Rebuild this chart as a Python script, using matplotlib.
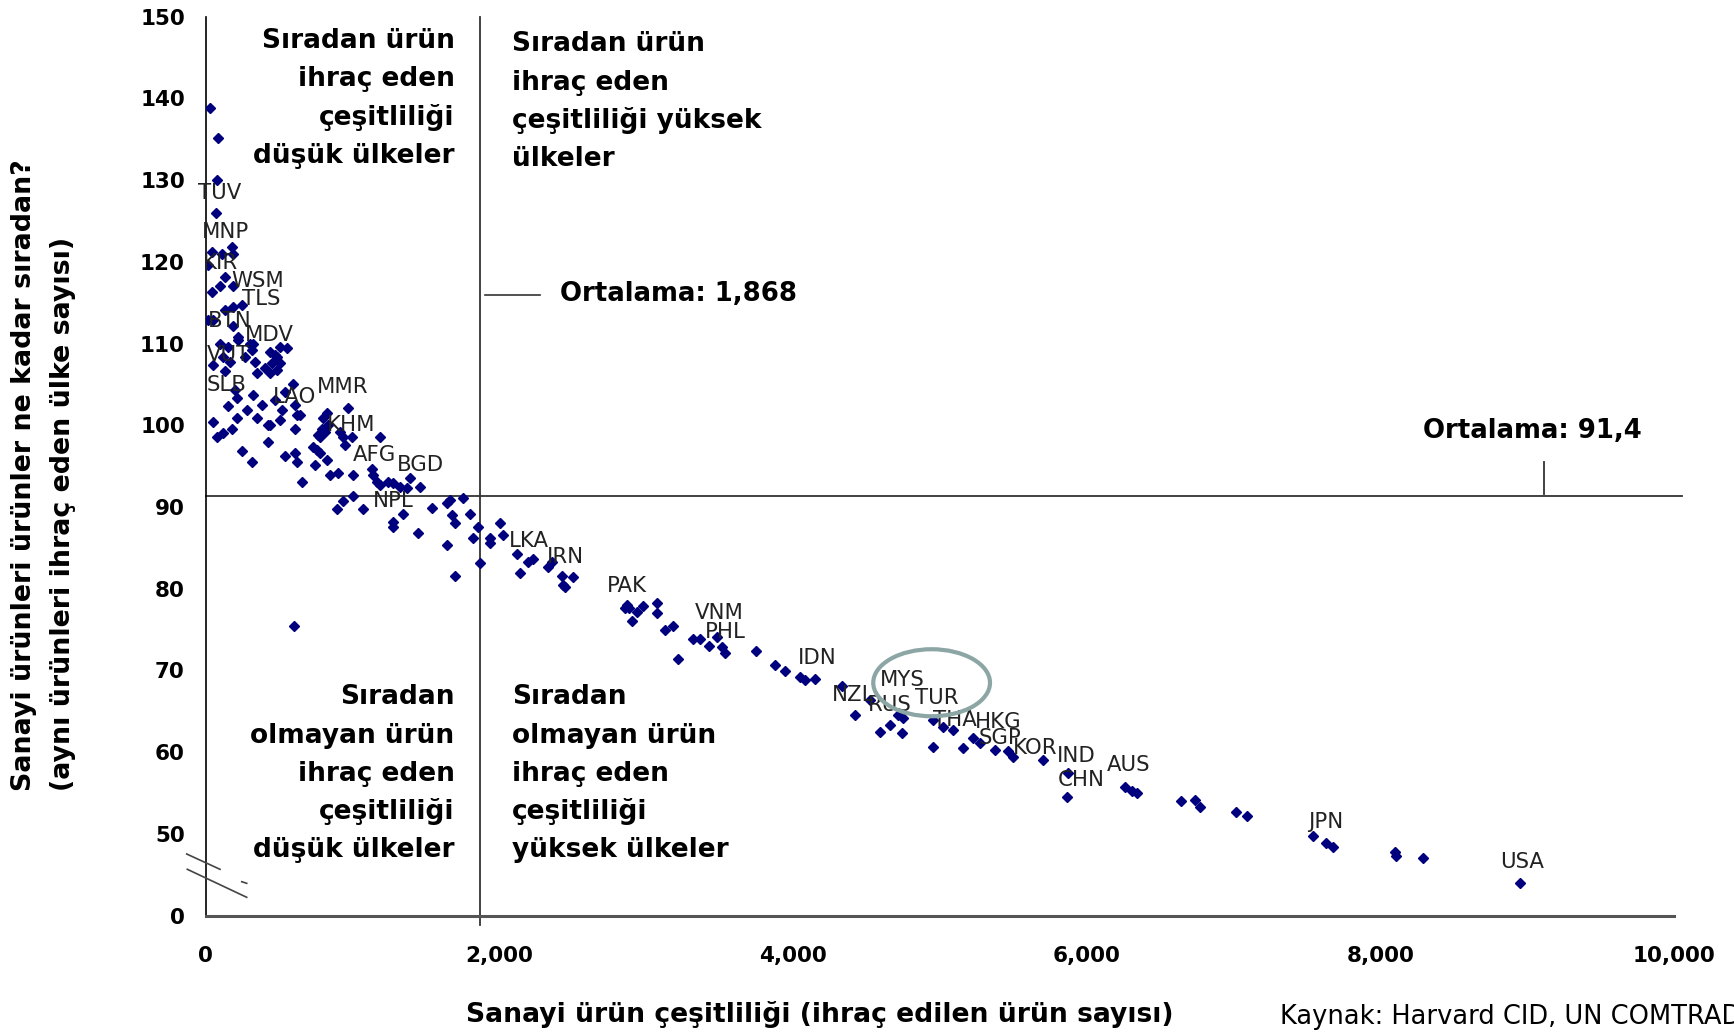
import matplotlib.pyplot as plt
from matplotlib.patches import Ellipse
from matplotlib.lines import Line2D

# ülkelerin sanayi ürün çeşitliliği ve sıradanlık değerleri
cesitlilik = [29, 84, 79, 68, 41, 109, 177, 188, 18, 131, 188, 41, 97,
              131, 188, 245, 52, 18, 188, 222, 97, 154, 222, 302, 313, 324,
              438, 506, 551, 483, 472, 52, 120, 165, 268, 336,
              449, 506, 483, 438, 347, 404, 131, 200, 211, 154,
              324, 381, 279, 347, 211, 597, 540, 472, 517, 608, 642, 619, 506, 426, 438,
              52, 75, 120, 177, 426, 245, 313, 608, 608, 540, 619, 654,
              824, 801, 790, 767, 778, 812, 835, 733, 756, 778, 824, 744,
              971, 914, 937, 949, 994, 1187, 846, 903, 1005, 892, 937, 1005, 1069,
              1130, 1141, 1164, 1187, 1243, 1277, 1323, 1369, 1391, 1459,
              1277, 1277, 1345, 1448, 1539, 1641, 1663, 1754, 1800, 1675, 1697, 1641, 1697,
              1822, 1856, 1868, 1936, 1936, 2004, 600, 2022,
              2118, 2140, 2197, 2231, 2333, 2356, 2424, 2503, 2435, 2446,
              2866, 2884, 2855, 2935, 2980, 3071, 3071, 2901, 3127, 3180,
              3320, 3366, 3429, 3479, 3513, 3536, 3747, 3218, 3876,
              3944, 4047, 4081, 4149, 4331, 4421, 4523, 4591, 4659, 4739, 4716, 4750,
              4954, 5023, 5091, 4954, 5159, 5227, 5272, 5374,
              5465, 5499, 5699, 5873, 5862, 6260, 6305, 6343, 6641, 6736, 6770, 7013, 7088,
              7542, 7628, 7678, 8098, 8105, 8291, 8949]
siradanlik = [138.8, 135.1, 130.0, 126.0, 121.2, 121.0, 121.8, 121.0, 119.6, 118.2, 117.0, 116.3, 117.0,
              114.1, 114.5, 114.7, 112.9, 112.9, 112.1, 110.8, 110.0, 109.6, 110.4, 110.0, 109.2, 110.0,
              109.0, 109.6, 109.4, 108.4, 108.6, 107.4, 108.4, 107.8, 108.4, 107.8,
              107.6, 107.6, 106.8, 106.4, 106.4, 107.0, 106.6, 104.3, 103.3, 102.4,
              103.7, 102.5, 101.9, 100.9, 100.9, 105.1, 104.1, 103.1, 101.9, 102.5, 101.3, 101.3, 100.7, 100.0, 100.0,
              100.4, 98.6, 99.0, 99.5, 98.0, 96.8, 95.5, 99.6, 96.6, 96.2, 95.5, 93.1,
              101.5, 100.9, 99.6, 98.8, 98.6, 99.2, 100.0, 97.4, 97.0, 96.6, 95.8, 95.1,
              102.1, 99.2, 98.6, 97.6, 98.6, 98.6, 93.9, 94.2, 93.9, 89.8, 90.7, 91.3, 89.8,
              94.6, 93.9, 93.1, 92.7, 93.1, 92.9, 92.5, 92.3, 93.5, 92.5,
              88.2, 87.6, 89.2, 86.8, 89.9, 90.5, 90.9, 91.1, 89.2, 89.0, 88.0, 85.4, 81.5,
              86.2, 87.6, 83.1, 86.2, 85.6, 88.0, 75.4, 86.6,
              84.3, 81.9, 83.3, 83.6, 82.7, 83.3, 81.6, 81.4, 80.5, 80.2,
              78.0, 77.6, 77.6, 77.2, 77.9, 78.3, 77.0, 76.0, 74.9, 75.4,
              73.9, 73.9, 73.0, 74.1, 72.9, 72.2, 72.4, 71.4, 70.7,
              69.9, 69.2, 68.8, 69.0, 68.1, 64.6, 66.4, 62.5, 63.3, 62.3, 64.6, 64.2,
              64.0, 63.1, 62.7, 60.7, 60.5, 61.7, 61.1, 60.3,
              60.2, 59.4, 59.0, 57.4, 54.5, 55.8, 55.2, 55.0, 54.0, 54.1, 53.3, 52.7, 52.2,
              49.8, 48.9, 48.4, 47.8, 47.3, 47.0, 44.0]

kodlar = ['TUV', 'MNP', 'KIR', 'WSM', 'TLS', 'BTN', 'MDV', 'VUT', 'SLB', 'LAO', 'MMR',
          'KHM', 'AFG', 'BGD', 'NPL', 'LKA', 'IRN', 'PAK', 'VNM', 'PHL', 'IDN', 'NZL',
          'RUS', 'MYS', 'TUR', 'THA', 'HKG', 'SGP', 'KOR', 'IND', 'CHN', 'AUS', 'JPN', 'USA']
kod_x = [-50, -27, -16, 177, 245, 18, 268, 7, 7, 460, 756,
         824, 1005, 1300, 1141, 2067, 2322, 2730, 3332, 3400, 4035, 4262,
         4512, 4591, 4830, 4954, 5238, 5261, 5499, 5794, 5805, 6135, 7508, 8813]
kod_y = [128.4, 123.6, 119.8, 117.6, 115.5, 112.7, 111.0, 108.6, 104.9, 103.5, 104.7,
         100.0, 96.4, 95.1, 90.7, 85.8, 83.9, 80.3, 77.0, 74.7, 71.5, 67.0,
         65.8, 68.8, 66.6, 64.0, 63.7, 61.7, 60.5, 59.5, 56.6, 58.4, 51.5, 46.6]

ort_cesitlilik = 1868
ort_siradanlik = 91.4

y_ticks = [40, 50, 60, 70, 80, 90, 100, 110, 120, 130, 140, 150]
y_tick_labels = ['0', '50', '60', '70', '80', '90', '100', '110', '120', '130', '140', '150']
x_ticks = [0, 2000, 4000, 6000, 8000, 10000]
x_tick_labels = ['0', '2,000', '4,000', '6,000', '8,000', '10,000']

sol_ust = ['Sıradan ürün', 'ihraç eden', 'çeşitliliği', 'düşük ülkeler']
sag_ust = ['Sıradan ürün', 'ihraç eden', 'çeşitliliği yüksek', 'ülkeler']
sol_alt = ['Sıradan', 'olmayan ürün', 'ihraç eden', 'çeşitliliği', 'düşük ülkeler']
sag_alt = ['Sıradan', 'olmayan ürün', 'ihraç eden', 'çeşitliliği', 'yüksek ülkeler']

W, H = 1734, 1033
fig = plt.figure(figsize=(W / 100, H / 100), dpi=100)
ax = fig.add_axes([205.7 / W, 1 - 915.7 / H, 1468.6 / W, 899.1 / H])

ax.plot(cesitlilik, siradanlik, 'D', color='#00007f', ms=5.3, zorder=3)
for k, x, y in zip(kodlar, kod_x, kod_y):
    ax.text(x, y, k, fontsize=15.3, color='#222222', ha='left', va='center', zorder=4)

# ortalama çizgileri
ax.plot([ort_cesitlilik, ort_cesitlilik], [38.9, 150], color='#333333', lw=1.3, clip_on=False)
ax.plot([0, 10050], [ort_siradanlik, ort_siradanlik], color='#333333', lw=1.3, clip_on=False)
ax.plot([1902, 2276], [115.9, 115.9], color='#333333', lw=1.2)
ax.text(2412, 116.1, 'Ortalama: 1,868', fontsize=18.7, fontweight='bold', va='center', ha='left')
ax.plot([9113, 9113], [95.5, 91.6], color='#333333', lw=1.3)
ax.text(9034, 99.3, 'Ortalama: 91,4', fontsize=18.7, fontweight='bold', va='center', ha='center')

# çeyrek açıklamaları
step = 4.67
for i, s in enumerate(sol_ust):
    ax.text(1694, 147.0 - i * step, s, fontsize=19, fontweight='bold', ha='right', va='center')
for i, s in enumerate(sag_ust):
    ax.text(2086, 146.6 - i * step, s, fontsize=19, fontweight='bold', ha='left', va='center')
for i, s in enumerate(sol_alt):
    ax.text(1694, 66.7 - i * step, s, fontsize=19, fontweight='bold', ha='right', va='center')
for i, s in enumerate(sag_alt):
    ax.text(2086, 66.7 - i * step, s, fontsize=19, fontweight='bold', ha='left', va='center')

# Türkiye ve Malezya çevresindeki halka
ax.add_patch(Ellipse((4943, 68.5), 795, 8.2, fill=False, ec='#8ca5a5', lw=3, zorder=5))

ax.set_xlim(0, 10000)
ax.set_ylim(40, 150)
ax.set_xticks(x_ticks)
ax.set_xticklabels(x_tick_labels)
ax.set_yticks(y_ticks)
ax.set_yticklabels(y_tick_labels)
ax.tick_params(axis='both', length=0, labelsize=15.5)
ax.tick_params(axis='y', pad=15)
ax.tick_params(axis='x', pad=22)
for lab in ax.get_xticklabels() + ax.get_yticklabels():
    lab.set_fontweight('bold')
ax.spines['top'].set_visible(False)
ax.spines['right'].set_visible(False)
ax.spines['left'].set_color('black')
ax.spines['left'].set_linewidth(1.2)
ax.spines['bottom'].set_color('#555555')
ax.spines['bottom'].set_linewidth(2.2)

# eksen kırılma işaretleri
for (x0, y0), (x1, y1) in [((186.7, 854), (220, 869.3)),
                           ((187.3, 869.3), (246.7, 897.3)),
                           ((241.7, 881.7), (246.7, 883.3))]:
    fig.add_artist(Line2D([x0 / W, x1 / W], [1 - y0 / H, 1 - y1 / H], color='#444444', lw=1.2))

fig.text(24.3 / W, 1 - 790.7 / H, 'Sanayi ürünleri ürünler ne kadar sıradan?',
         rotation=90, fontsize=19.4, fontweight='bold', ha='center', va='bottom')
fig.text(63 / W, 1 - 790.7 / H, '(aynı ürünleri ihraç eden ülke sayısı)',
         rotation=90, fontsize=19.4, fontweight='bold', ha='center', va='bottom')
fig.text(820 / W, 1 - 1015 / H, 'Sanayi ürün çeşitliliği (ihraç edilen ürün sayısı)',
         fontsize=19.2, fontweight='bold', ha='center', va='center')
fig.text(1280 / W, 1 - 1017 / H, 'Kaynak: Harvard CID, UN COMTRADE',
         fontsize=18.5, ha='left', va='center')

fig.savefig('out.png', dpi=100)
